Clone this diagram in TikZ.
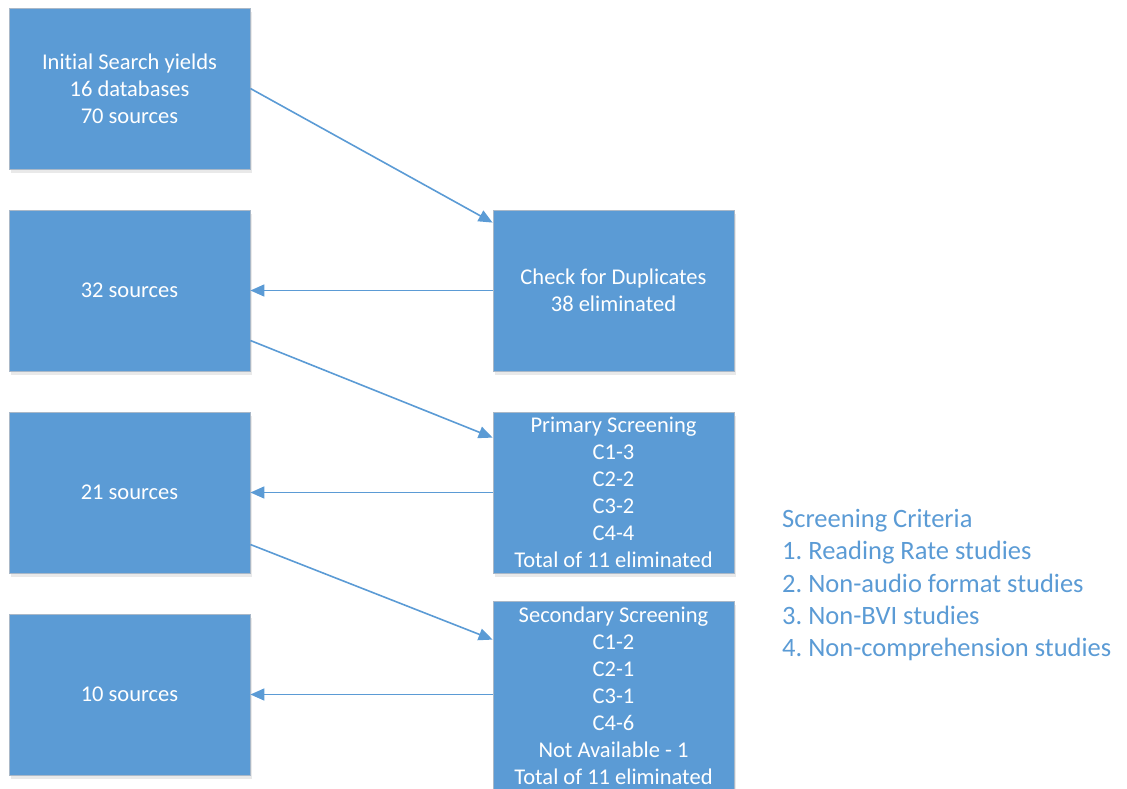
\documentclass[tikz,border=0pt]{standalone}
\usepackage{fontspec}
\setmainfont[Ligatures=NoCommon]{Carlito}
\frenchspacing
\usetikzlibrary{arrows.meta,shadows}
\definecolor{boxblue}{HTML}{5B9BD5}
\definecolor{boxedge}{HTML}{A9B8C8}
\tikzset{
  box/.style={draw=boxedge, line width=0.8pt, fill=boxblue, text=white,
    minimum width=241pt, minimum height=161pt, align=center, inner sep=0pt,
    font=\fontsize{22.5}{27}\selectfont,
    drop shadow={shadow xshift=2pt, shadow yshift=-4pt, fill=black!25, opacity=0.35}},
  conn/.style={draw=boxblue, line width=1.6pt, -{Triangle[length=14pt,width=12pt]}},
}
\begin{document}
\begin{tikzpicture}[x=1pt,y=-1pt]
\useasboundingbox (0,0) rectangle (1127,789);
\clip (0,0) rectangle (1127,789);
\node[box] (init) at (129.5,88.5) {Initial Search yields\\16 databases\\70 sources};
\node[box] (s32) at (129.5,290.5) {32 sources};
\node[box] (s21) at (129.5,492.5) {21 sources};
\node[box] (s10) at (129.5,694.5) {10 sources};
\node[box] (dup) at (613.5,290.5) {Check for Duplicates\\38 eliminated};
\node[box] (prim) at (613.5,492.5) {Primary Screening\\C1-3\\C2-2\\C3-2\\C4-4\\Total of 11 eliminated};
\node[box, minimum height=190pt] (sec) at (613.5,696) {Secondary Screening\\C1-2\\C2-1\\C3-1\\C4-6\\Not Available - 1\\Total of 11 eliminated};
\node[text=boxblue, align=left, anchor=north west, inner sep=0pt,
  font=\fontsize{26.5}{32.3}\selectfont] (crit) at (782,509)
  {Screening Criteria\\1. Reading Rate studies\\2. Non-audio format studies\\3. Non-BVI studies\\4. Non-comprehension studies};
\draw[conn] (init.east) -- ([yshift=-13pt]dup.north west);
\draw[conn] (dup.west) -- (s32.east);
\draw[conn] ([yshift=-50pt]s32.east) -- ([yshift=-26pt]prim.north west);
\draw[conn] (prim.west) -- (s21.east);
\draw[conn] ([yshift=-52pt]s21.east) -- ([yshift=-39pt]sec.north west);
\draw[conn] (s10.east -| sec.west) -- (s10.east);
\end{tikzpicture}
\end{document}
